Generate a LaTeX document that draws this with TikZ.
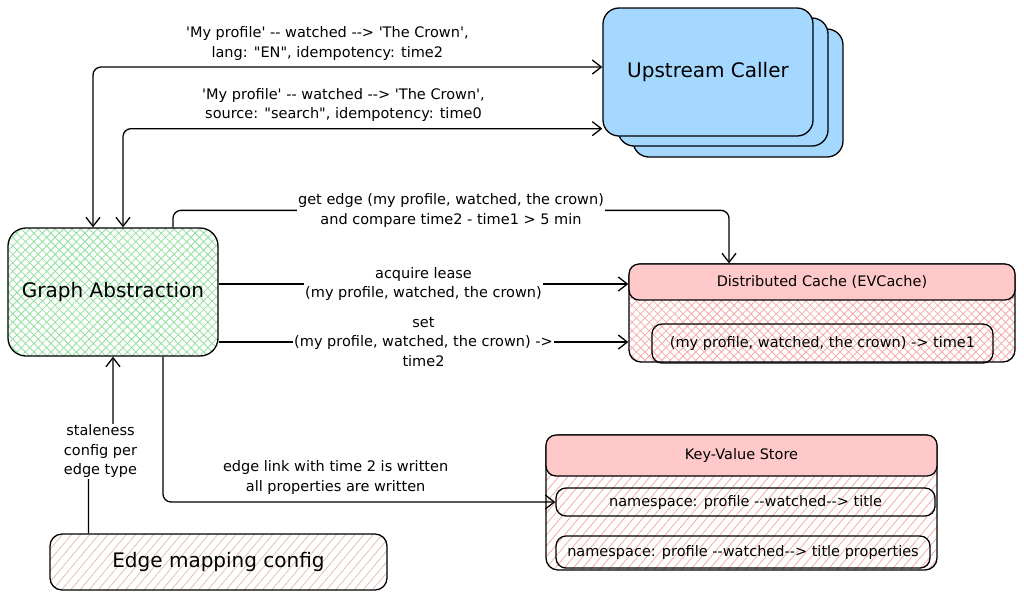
\documentclass[tikz,border=0pt]{standalone}
\usepackage{fontspec}
\setmainfont{DejaVu Sans}[Ligatures=TeXOff]
\usetikzlibrary{arrows.meta,patterns.meta}

\definecolor{callerblue}{HTML}{A5D8FF}
\definecolor{headpink}{HTML}{FFC9C9}
\definecolor{hatchgreen}{HTML}{8FE09C}
\definecolor{hatchpink}{HTML}{F5A9A9}
\definecolor{hatchtan}{HTML}{E3C0B0}

\begin{document}
\begin{tikzpicture}[
    x=1pt, y=-1pt,
    every node/.style={font=\fontsize{14.5}{19.5}\selectfont},
    lbl/.style={align=center, inner sep=1pt},
    big/.style={font=\fontsize{20}{24}\selectfont},
    box/.style={draw, line width=1.3pt, rounded corners=10pt, inner sep=0pt},
    caller/.style={box, fill=callerblue, rounded corners=16pt,
                   minimum width=210pt, minimum height=128pt, big},
    crossgreen/.style={preaction={pattern={Lines[angle=45,distance=6pt,line width=0.8pt]}, pattern color=hatchgreen},
                       preaction={pattern={Lines[angle=-45,distance=6pt,line width=0.8pt]}, pattern color=hatchgreen}},
    crosspink/.style={preaction={pattern={Lines[angle=45,distance=6pt,line width=0.8pt]}, pattern color=hatchpink},
                      preaction={pattern={Lines[angle=-45,distance=6pt,line width=0.8pt]}, pattern color=hatchpink}},
    linepink/.style={preaction={pattern={Lines[angle=50,distance=7pt,line width=0.8pt]}, pattern color=hatchpink}},
    linetan/.style={preaction={pattern={Lines[angle=50,distance=7pt,line width=0.8pt]}, pattern color=hatchtan}},
    head/.style={box, fill=headpink, anchor=north},
    arr/.style={-{Straight Barb[length=9pt,width=14pt]}, line width=1.3pt, rounded corners=8pt},
    arrboth/.style={{Straight Barb[length=9pt,width=14pt]}-{Straight Barb[length=9pt,width=14pt]},
                    line width=1.3pt, rounded corners=8pt},
]
\useasboundingbox (0,0) rectangle (1024,598);

% upstream caller, drawn as a stack of three cards
\node[caller] (upC) at (738,93) {};
\node[caller] (upB) at (723,82) {};
\node[caller] (up) at (708,72) {Upstream Caller};

% graph abstraction
\node[box, crossgreen, rounded corners=18pt, minimum width=210pt, minimum height=128pt, big]
  (ga) at (113,292) {Graph Abstraction};

% distributed cache
\node[box, crosspink, rounded corners=12pt, minimum width=386pt, minimum height=98pt] (cache) at (822,313) {};
\node[head, minimum width=386pt, minimum height=36pt] (cachehd) at (cache.north) {Distributed Cache (EVCache)};
\node[box, minimum width=341pt, minimum height=39pt] (cacheval) at (822.5,343.5)
  {(my profile, watched, the crown) -> time1};

% key-value store
\node[box, linepink, rounded corners=12pt, minimum width=391pt, minimum height=135pt] (kv) at (741.5,502.5) {};
\node[head, minimum width=391pt, minimum height=41pt] (kvhd) at (kv.north) {Key-Value Store};
\node[box, minimum width=379pt, minimum height=28pt] (kvedge) at (745.5,502)
  {namespace: profile --watched--> title};
\node[box, minimum width=374pt, minimum height=32pt] (kvprop) at (743,552)
  {namespace: profile --watched--> title properties};

% edge mapping config
\node[box, linetan, rounded corners=12pt, minimum width=337pt, minimum height=56pt, big]
  (cfg) at (218.5,562) {Edge mapping config};

% requests from the caller
\draw[arrboth] ([yshift=5pt]up.west) -| ([xshift=-20pt]ga.north)
  node[lbl, above=5pt, pos=0.27] {'My profile'  -- watched --> 'The Crown',\\lang: "EN", idempotency: time2};
\draw[arrboth] ([yshift=8pt]up.south west) -| ([xshift=10pt]ga.north)
  node[lbl, above=5pt, pos=0.27] {'My profile' -- watched --> 'The Crown',\\source: "search", idempotency: time0};

% cache calls
\draw[arr] ([xshift=60pt]ga.north) -- ++(0,-17) -| ([xshift=-93pt]cache.north)
  node[lbl, fill=white, pos=0.25] {get edge (my profile, watched, the crown)\\and compare time2 - time1 > 5 min};
\draw[arr] ([yshift=8pt]ga.east) -- ([yshift=8pt]ga.east -| cache.west)
  node[lbl, fill=white, midway] {acquire lease\\(my profile, watched, the crown)};
\draw[arr] ([yshift=-50pt]ga.east) -- ([yshift=-50pt]ga.east -| cache.west)
  node[lbl, fill=white, midway] {set\\(my profile, watched, the crown) ->\\time2};

% write to the store
\draw[arr] ([xshift=50pt]ga.south) |- (kvedge.west)
  node[lbl, above=6pt, pos=0.72] {edge link with time 2 is written\\all properties are written};

% staleness config
\draw[arr] ([xshift=-130pt]cfg.north) -- ++(0,-86) coordinate (st) -| (ga.south);
\node[lbl, fill=white] (stale) at ([xshift=12pt,yshift=-4pt]st) {staleness\\config per\\edge type};
\end{tikzpicture}
\end{document}
